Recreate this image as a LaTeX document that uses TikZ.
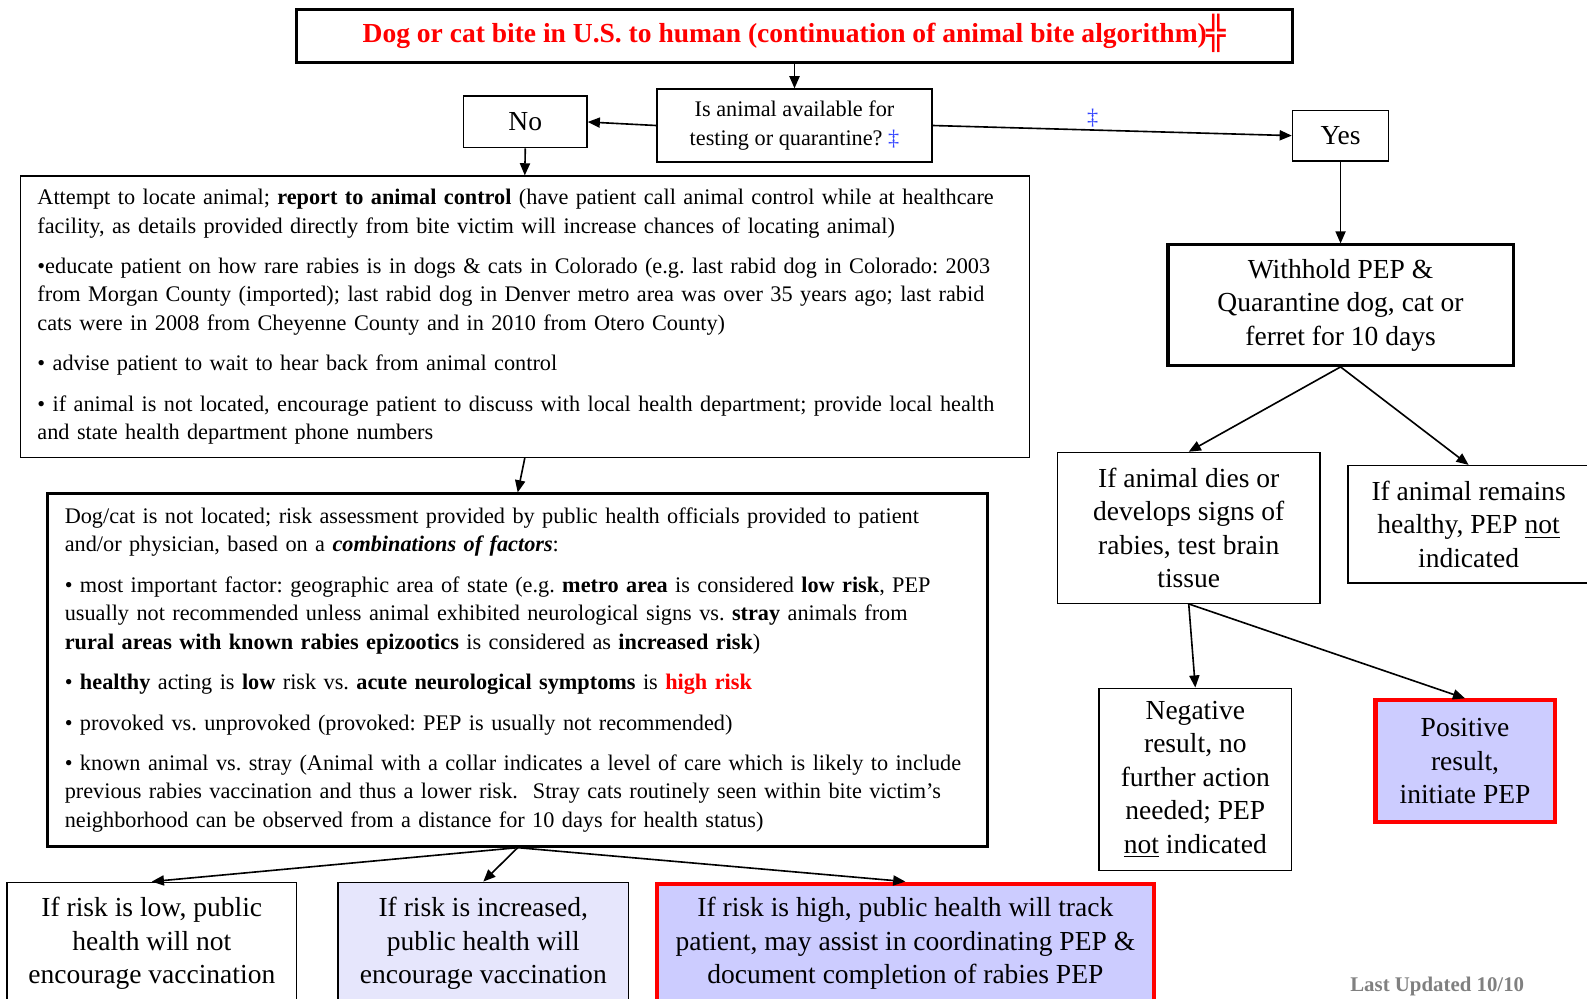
\documentclass[tikz,border=0pt]{standalone}
\usepackage{fontspec}
\setmainfont{Liberation Serif}
\newfontfamily\symfont{DejaVu Sans}
\usetikzlibrary{arrows.meta}
\definecolor{lav}{HTML}{CCCCFF}
\definecolor{lavlight}{HTML}{E6E6FC}
\definecolor{dagblue}{HTML}{3344FF}
\definecolor{upd}{HTML}{808080}
\frenchspacing
\begin{document}
\begin{tikzpicture}[x=0.5pt,y=-0.5pt,
  box/.style={draw, line width=0.7pt, inner sep=0pt, align=center, font=\fontsize{13.6}{16.5}\selectfont},
  thickbox/.style={box, line width=1.5pt},
  redbox/.style={box, draw=red, line width=2pt, fill=lav},
  bigtext/.style={box, align=left, inner xsep=8.5pt, font=\fontsize{11}{14}\selectfont},
  plaintext/.style={inner sep=0pt, align=center, font=\fontsize{13.6}{16.5}\selectfont},
  arr/.style={-{Triangle[length=6pt,width=5pt]}, line width=0.8pt},
  dag/.style={text=dagblue, inner sep=1pt, font=\fontsize{11}{13}\selectfont}]
\useasboundingbox (0,0) rectangle (1568,987);

% title
\node[thickbox, minimum width=492pt, minimum height=26.5pt,
      font=\fontsize{13.6}{15}\selectfont\bfseries, text=red] (title) at (785,35.5)
  {Dog or cat bite in U.S. to human (continuation of animal bite algorithm)\raisebox{-1pt}[0pt][0pt]{\symfont\fontsize{16}{16}\selectfont ╬}};

% question
\node[box, minimum width=136pt, minimum height=36pt, font=\fontsize{11}{14}\selectfont] (q) at (785,124)
  {Is animal available for\\testing or quarantine? {\color{dagblue}‡}};

\node[box, minimum width=61pt, minimum height=25.5pt] (no) at (519,120.5) {No};
\node[box, minimum width=47.5pt, minimum height=25pt] (yes) at (1324.5,134) {Yes};

% box 1
\node[bigtext, minimum width=498.5pt, minimum height=139pt, text width=481.5pt] (box1) at (518.5,313)
{Attempt to locate animal; \textbf{report to animal control} (have patient call animal control while at healthcare\\
facility, as details provided directly from bite victim will increase chances of locating animal)\\[6pt]
•educate patient on how rare rabies is in dogs \& cats in Colorado (e.g. last rabid dog in Colorado: 2003\\
from Morgan County (imported); last rabid dog in Denver metro area was over 35 years ago; last rabid\\
cats were in 2008 from Cheyenne County and in 2010 from Otero County)\\[6pt]
• advise patient to wait to hear back from animal control\\[6pt]
• if animal is not located, encourage patient to discuss with local health department; provide local health\\
and state health department phone numbers};

% box 2
\node[bigtext, line width=1.5pt, minimum width=464.5pt, minimum height=174pt, text width=447.5pt] (box2) at (511.5,662)
{Dog/cat is not located; risk assessment provided by public health officials provided to patient\\
and/or physician, based on a \textbf{\textit{combinations of factors}}:\\[6pt]
• most important factor: geographic area of state (e.g. \textbf{metro area} is considered \textbf{low risk}, PEP\\
usually not recommended unless animal exhibited neurological signs vs. \textbf{stray} animals from\\
\textbf{rural areas with known rabies epizootics} is considered as \textbf{increased risk})\\[6pt]
• \textbf{healthy} acting is \textbf{low} risk vs. \textbf{acute neurological symptoms} is \textcolor{red}{\textbf{high risk}}\\[6pt]
• provoked vs. unprovoked (provoked: PEP is usually not recommended)\\[6pt]
• known animal vs. stray (Animal with a collar indicates a level of care which is likely to include\\
previous rabies vaccination and thus a lower risk.\ \ Stray cats routinely seen within bite victim’s\\
neighborhood can be observed from a distance for 10 days for health status)};

% bottom boxes
\node[box, minimum width=143pt, minimum height=64.5pt, anchor=north] (low) at (150,871) {};
\node[plaintext] (lowtext) at (150,932) {If risk is low, public\\health will not\\encourage vaccination};
\node[box, fill=lavlight, minimum width=143.5pt, minimum height=64.5pt, anchor=north] (inc) at (477.5,871) {};
\node[plaintext] (inctext) at (477.5,932) {If risk is increased,\\public health will\\encourage vaccination};
\node[redbox, minimum width=245.5pt, minimum height=64.5pt, anchor=north] (high) at (894.5,871) {};
\node[plaintext] (hightext) at (894.5,932) {If risk is high, public health will track\\patient, may assist in coordinating PEP \&\\document completion of rabies PEP};

% right column
\node[thickbox, minimum width=170.5pt, minimum height=59.5pt] (withhold) at (1324.5,301.5)
  {Withhold PEP \&\\Quarantine dog, cat or\\ferret for 10 days};
\node[box, minimum width=129.5pt, minimum height=74.5pt] (dies) at (1174.5,521.5)
  {If animal dies or\\develops signs of\\rabies, test brain\\tissue};
\node[box, minimum width=119pt, minimum height=58pt] (healthy) at (1451,518)
  {If animal remains\\healthy, PEP \underline{not}\\indicated};
\node[box, minimum width=95pt, minimum height=90pt] (neg) at (1181,770)
  {Negative\\result, no\\further action\\needed; PEP\\\underline{not} indicated};
\node[redbox, minimum width=88.5pt, minimum height=60pt] (pos) at (1447.5,752)
  {Positive\\result,\\initiate PEP};

\node[text=upd, font=\fontsize{10.3}{12}\selectfont\bfseries, inner sep=0pt] (upd) at (1420,975) {Last Updated 10/10};

% connectors
\draw[arr] (title.south) -- (q.north);
\draw[arr] (q.west) -- (no.east);
\draw[arr] (q.east) -- node[dag, pos=0.445, above=0pt] (dagmark) {‡} (yes.west);
\draw[arr] (no.south) -- (box1.north);
\draw[arr] (box1.south) -- (box2.north);
\draw[arr] (box2.south) -- (low.north);
\draw[arr] (box2.south) -- (inc.north);
\draw[arr] (box2.south) -- (high.north);
\draw[arr] (yes.south) -- (withhold.north);
\draw[arr] (withhold.south) -- (dies.north);
\draw[arr] (withhold.south) -- (healthy.north);
\draw[arr] (dies.south) -- (neg.north);
\draw[arr] (dies.south) -- (pos.north);
\end{tikzpicture}
\end{document}
